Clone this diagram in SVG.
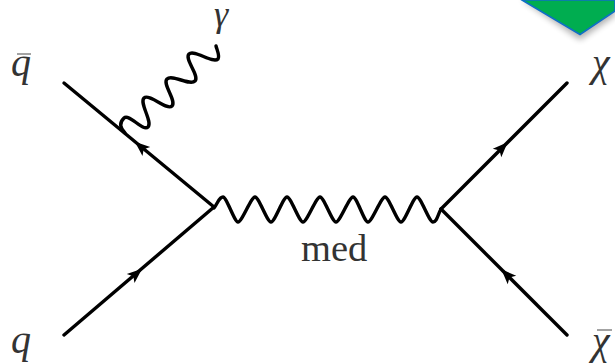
<svg xmlns="http://www.w3.org/2000/svg" width="615" height="364" viewBox="0 0 615 364">
<style>
.l{fill:none;stroke:#000;stroke-width:3.4;stroke-linecap:round;stroke-linejoin:round}
.a{fill:#000;stroke:none}
.b{fill:none;stroke:#666;stroke-width:1.2}
text{font-family:'Liberation Serif',serif;fill:#333}
.m{font-style:italic;font-size:40px}
.r{font-size:38.5px}
</style>
<defs>
<filter id="s" x="-20%" y="-20%" width="140%" height="150%"><feGaussianBlur stdDeviation="3"/></filter>
<path id="h" class="a" d="M8,0 L-7,-6 L-3.5,0 L-7,6 Z"/>
</defs>
<g id="banner">
<polygon points="522,0 580,40 615,16 615,0" fill="#000" opacity=".3" filter="url(#s)"/>
<polygon points="522,0 580,34.500 615,11 615,0" fill="#00ad50" stroke="#0f6fc6" stroke-width="1.6"/>
</g>
<g id="connectors">
<path class="l" d="M64,83 L214,207"/>
<path class="l" d="M64,335 L214,207"/>
<path class="l" d="M567,83 L441,209"/>
<path class="l" d="M567,335 L441,209"/>
<path class="l" d="M214,208 C218,203 219,197 223,197 C226.500,197 234.500,222 238,222 C242,222 251,197 255,197 C259,197 267,222 271,222 C275,222 283,197 287,197 C291,197 299,222 303,222 C307,222 316,197 320,197 C324,197 332,222 336,222 C340,222 349,197 353,197 C357,197 364,222 368,222 C372,222 381,197 385,197 C389,197 397,222 401,222 C405,222 413,197 417,197 C421,197 429,222 433,222 C437,222 438,214 441,209"/>
<path class="l" d="M125,133 C120,128 119,123 124,118 C129,113 143,132 148,127 C153,122 139,103 144,98 C149,93 167,111 172,106 C177,101 162,84 167,79 C172,74 190,86 195,81 C200,76 184,59 189,54 C194,49 213,64 218,59 C220,56 217,50 216,46"/>
<use href="#h" transform="translate(141,147) rotate(-140)"/>
<use href="#h" transform="translate(136,274) rotate(-40)"/>
<use href="#h" transform="translate(502,148) rotate(-45)"/>
<use href="#h" transform="translate(507,275) rotate(-135)"/>
</g>
<g id="label-qbar"><text class="m" x="11" y="76">q</text><path class="b" d="M17,54 H31"/></g>
<g id="label-q"><text class="m" x="11" y="353">q</text></g>
<g id="label-gamma"><text class="m" style="font-size:36px" x="214" y="26">γ</text></g>
<g id="label-chi"><text class="m" x="592" y="76">χ</text></g>
<g id="label-chibar"><text class="m" x="592" y="354">χ</text><path class="b" d="M597,330 H612"/></g>
<g id="label-med"><text class="r" x="301" y="261">med</text></g>
</svg>
